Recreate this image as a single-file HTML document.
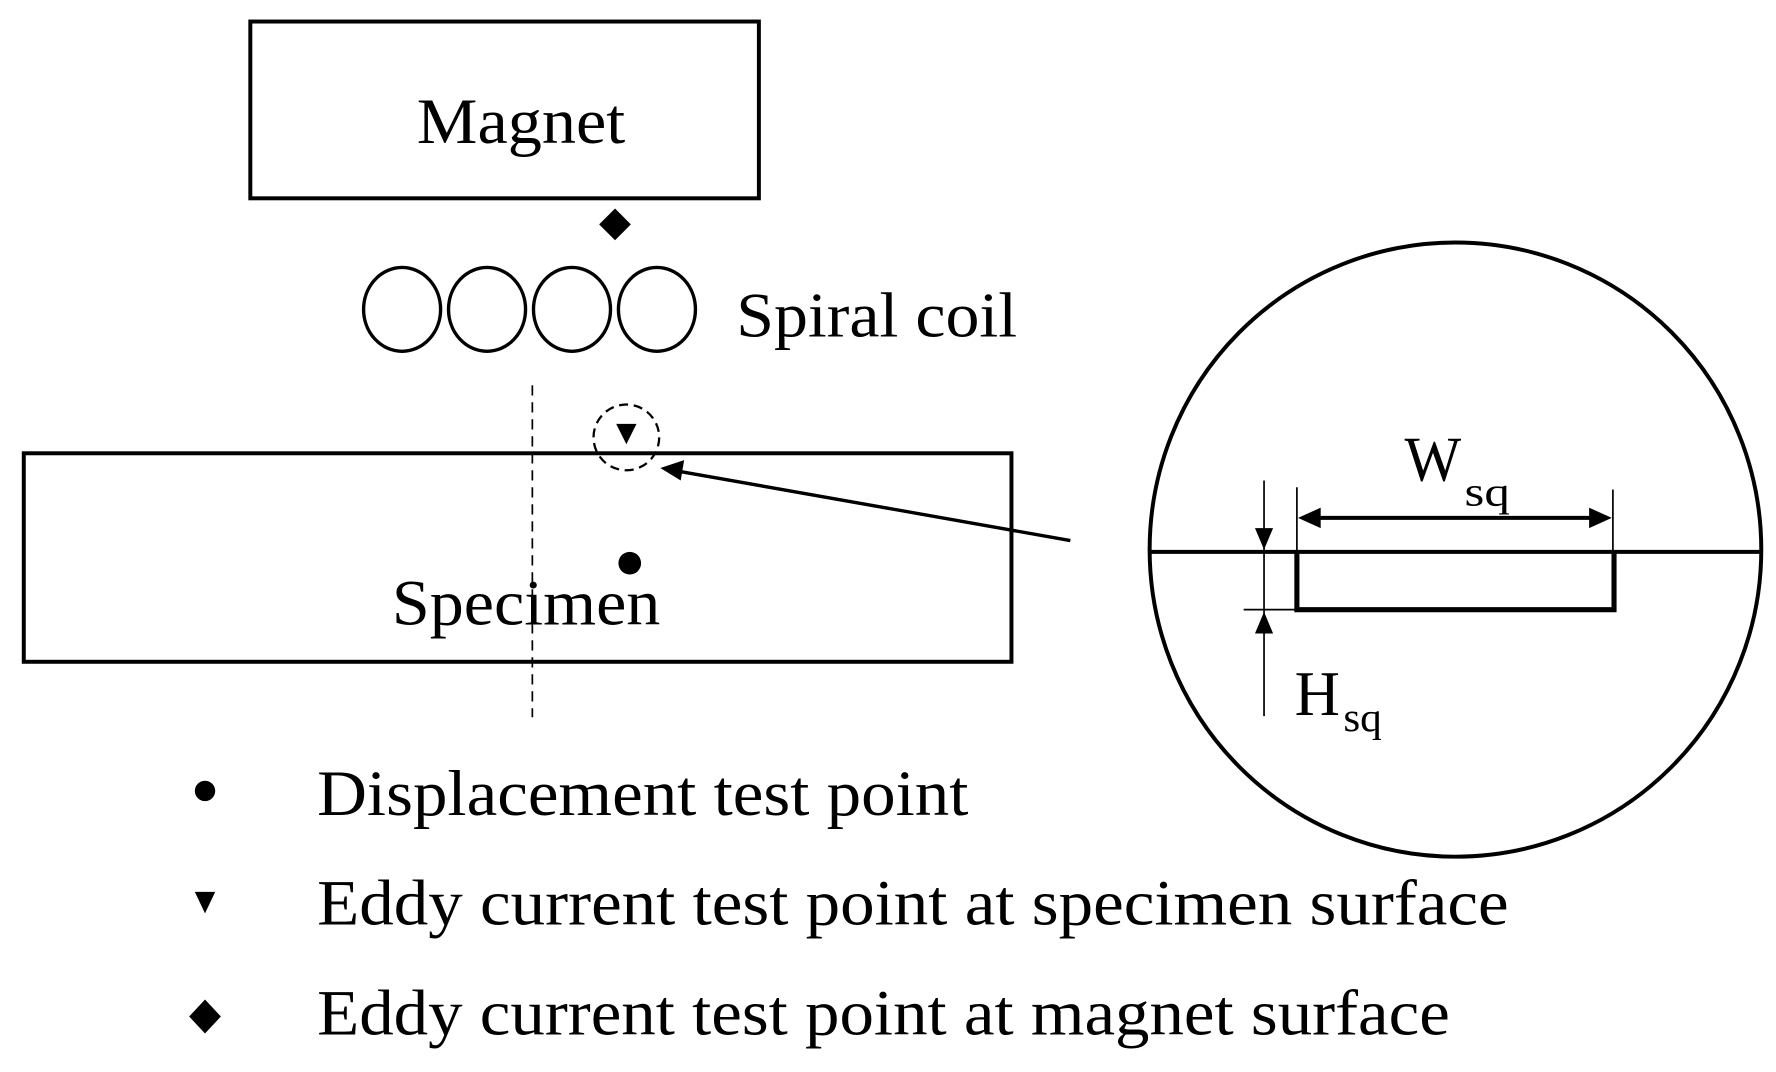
<!DOCTYPE html>
<html><head><style>html,body{margin:0;padding:0;background:#fff;}svg{display:block}</style></head>
<body>
<svg width="1776" height="1072" viewBox="0 0 1568 946" preserveAspectRatio="none" xmlns="http://www.w3.org/2000/svg" font-family="'Liberation Serif', serif" fill="#000">
<rect width="1568" height="946" fill="#fff"/>
<rect x="221" y="19" width="449" height="156" fill="none" stroke="#000" stroke-width="3.5"/>
<text x="368" y="126" font-size="57" textLength="184" lengthAdjust="spacingAndGlyphs">Magnet</text>
<polygon points="543,184 557,198 543,212 529,198"/>
<g fill="none" stroke="#000" stroke-width="3">
<ellipse cx="355" cy="273" rx="34" ry="37"/>
<ellipse cx="430" cy="273" rx="34" ry="37"/>
<ellipse cx="505" cy="273" rx="34" ry="37"/>
<ellipse cx="580" cy="273" rx="34" ry="37"/>
</g>
<text x="650" y="297" font-size="56" textLength="248" lengthAdjust="spacingAndGlyphs">Spiral coil</text>
<line x1="470" y1="340" x2="470" y2="633" stroke="#000" stroke-width="1.5" stroke-dasharray="9,6"/>
<circle cx="553" cy="386" r="29" fill="none" stroke="#000" stroke-width="2" stroke-dasharray="8,5"/>
<polygon points="544,374 562,374 553,392"/>
<rect x="21" y="400" width="872" height="184" fill="none" stroke="#000" stroke-width="3.5"/>
<circle cx="556" cy="497" r="10"/>
<text x="346" y="551" font-size="57" textLength="237" lengthAdjust="spacingAndGlyphs">Specimen</text>
<line x1="945" y1="477" x2="600" y2="416" stroke="#000" stroke-width="3"/>
<polygon points="583,413 604,406 601,424"/>
<ellipse cx="1285" cy="485" rx="270" ry="271" fill="none" stroke="#000" stroke-width="3.5"/>
<line x1="1015" y1="487" x2="1555" y2="487" stroke="#000" stroke-width="3.5"/>
<polyline points="1145,487 1145,538 1425,538 1425,487" fill="none" stroke="#000" stroke-width="4.5"/>
<line x1="1145" y1="430" x2="1145" y2="487" stroke="#000" stroke-width="1.5"/>
<line x1="1424" y1="432" x2="1424" y2="487" stroke="#000" stroke-width="1.5"/>
<line x1="1160" y1="457" x2="1408" y2="457" stroke="#000" stroke-width="3.5"/>
<polygon points="1146,457 1166,448 1166,466"/>
<polygon points="1423,457 1403,448 1403,466"/>
<text x="1240" y="424" font-size="56" textLength="50" lengthAdjust="spacingAndGlyphs">W</text>
<text x="1293" y="446" font-size="36" textLength="40" lengthAdjust="spacingAndGlyphs">sq</text>
<line x1="1116" y1="424" x2="1116" y2="632" stroke="#000" stroke-width="1.5"/>
<polygon points="1108,466 1124,466 1116,485"/>
<polygon points="1108,559 1124,559 1116,540"/>
<line x1="1098" y1="538" x2="1145" y2="538" stroke="#000" stroke-width="1.5"/>
<text x="1143" y="631" font-size="56" textLength="40" lengthAdjust="spacingAndGlyphs">H</text>
<text x="1186" y="645" font-size="36" textLength="34" lengthAdjust="spacingAndGlyphs">sq</text>
<circle cx="181" cy="698" r="9"/>
<text x="280" y="719" font-size="57" textLength="575" lengthAdjust="spacingAndGlyphs">Displacement test point</text>
<polygon points="172,787 190,787 181,806"/>
<text x="280" y="816" font-size="57" textLength="1052" lengthAdjust="spacingAndGlyphs">Eddy current test point at specimen surface</text>
<polygon points="181,882 195,897 181,912 167,897"/>
<text x="280" y="913" font-size="57" textLength="1000" lengthAdjust="spacingAndGlyphs">Eddy current test point at magnet surface</text>
</svg>
</body></html>
